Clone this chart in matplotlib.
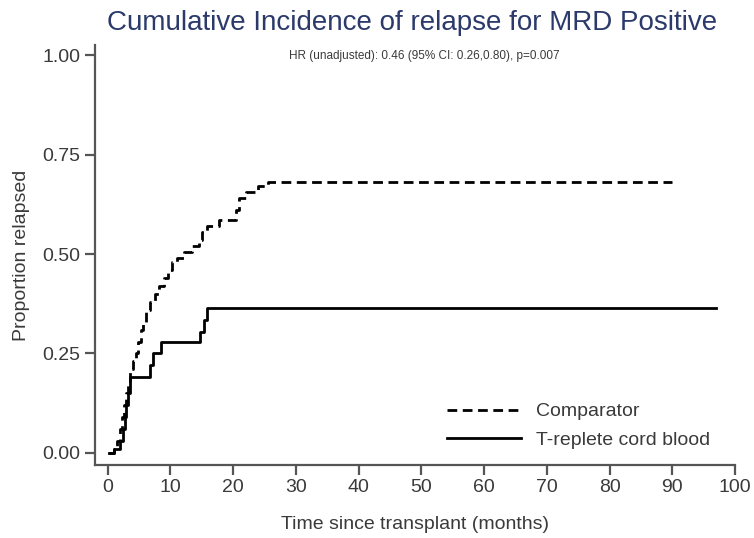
"""
Cumulative incidence of relapse for MRD positive patients
Step curves for comparator vs T-replete cord blood
"""

import matplotlib.pyplot as plt

plt.rcParams['font.family'] = ['Liberation Sans', 'DejaVu Sans']

# Comparator: event times (months) and cumulative incidence
comp_time = [0.3, 1.0, 1.5, 2.0, 2.3, 2.6, 2.9, 3.2, 3.5, 4.0, 4.5, 4.9, 5.3,
             5.7, 6.2, 6.8, 7.5, 8.2, 9.0, 9.7, 10.3, 11.0, 12.2, 13.5, 14.5,
             15.0, 15.8, 17.8, 20.5, 21.0, 22.0, 24.0, 25.5, 90.0]
comp_value = [0.0, 0.01, 0.03, 0.06, 0.09, 0.12, 0.15, 0.18, 0.21, 0.23, 0.25,
              0.28, 0.31, 0.33, 0.36, 0.38, 0.40, 0.42, 0.44, 0.46, 0.48, 0.49,
              0.505, 0.52, 0.535, 0.555, 0.57, 0.585, 0.61, 0.64, 0.655, 0.67,
              0.68, 0.68]

# T-replete cord blood
cord_time = [0.3, 1.0, 2.0, 2.4, 2.7, 3.0, 3.2, 3.5, 6.8, 7.2, 8.5, 14.8,
             15.3, 15.9, 97.0]
cord_value = [0.0, 0.01, 0.03, 0.06, 0.09, 0.12, 0.15, 0.19, 0.22, 0.25, 0.28,
              0.305, 0.335, 0.364, 0.364]

x_ticks = list(range(0, 101, 10))
y_ticks = [0.0, 0.25, 0.5, 0.75, 1.0]

TEXT = '#3a3a3a'
AXIS = '#555555'

fig = plt.figure(figsize=(7.54, 5.38), dpi=100)
ax = fig.add_axes([0.126, 0.136, 0.849, 0.780])

ax.step(comp_time, comp_value, where='post', color='black', linewidth=2.0,
        linestyle=(0, (3.5, 2)), label='Comparator')
ax.step(cord_time, cord_value, where='post', color='black', linewidth=2.0,
        label='T-replete cord blood')

ax.set_xlim(-2, 100)
ax.set_ylim(-0.03, 1.025)
ax.set_xticks(x_ticks)
ax.set_xticklabels([str(t) for t in x_ticks])
ax.set_yticks(y_ticks)
ax.set_yticklabels([f'{v:.2f}' for v in y_ticks])

for side in ['top', 'right']:
    ax.spines[side].set_visible(False)
for side in ['left', 'bottom']:
    ax.spines[side].set_color(AXIS)
    ax.spines[side].set_linewidth(1.6)
ax.tick_params(axis='both', colors=AXIS, labelcolor=TEXT, labelsize=14,
               length=7, width=1.6)

ax.set_xlabel('Time since transplant (months)', fontsize=14, color=TEXT,
              labelpad=14)
ax.set_ylabel('Proportion relapsed', fontsize=14, color=TEXT, labelpad=9)

fig.text(0.547, 0.957, 'Cumulative Incidence of relapse for MRD Positive',
         ha='center', va='center', fontsize=20, color='#2b3a6b')
ax.text(0.515, 0.975, 'HR (unadjusted): 0.46 (95% CI: 0.26,0.80), p=0.007',
        transform=ax.transAxes, ha='center', va='center', fontsize=8.5,
        color=TEXT)

leg = ax.legend(loc='center left', bbox_to_anchor=(0.55, 0.093), frameon=False,
                fontsize=14, handlelength=3.8, handletextpad=0.75,
                labelspacing=0.55, borderpad=0, borderaxespad=0,
                labelcolor=TEXT)

fig.savefig('out.png', dpi=100)
